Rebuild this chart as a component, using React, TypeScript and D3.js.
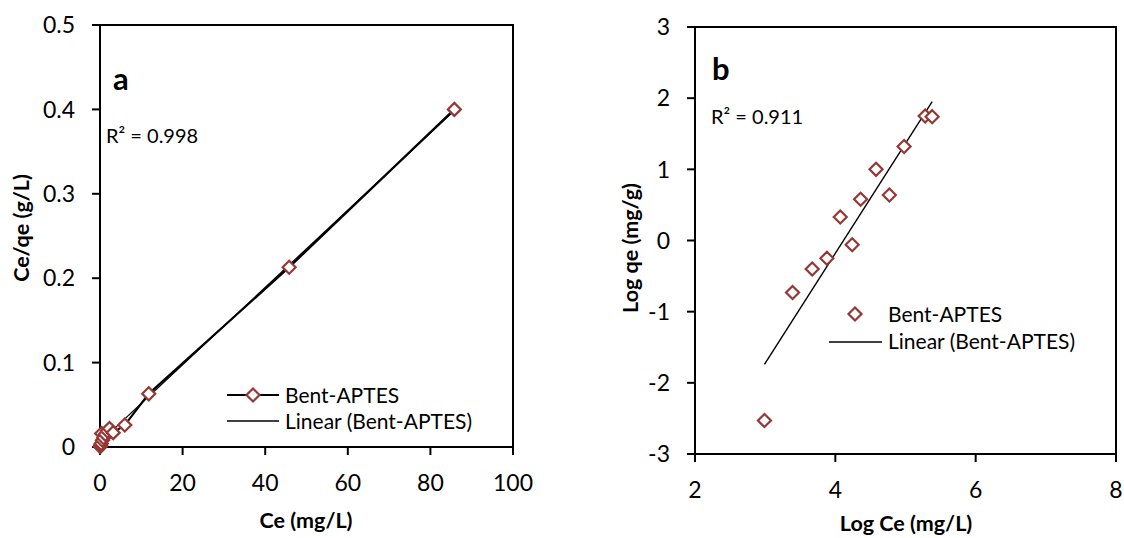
import React from 'react';
import * as d3 from 'd3';

// panel a: Langmuir
const ceA = [0.05, 0.15, 0.3, 0.4, 0.6, 0.9, 1.3, 1.8, 2.3, 3.2, 6.0, 11.8, 45.8, 85.8];
const ceqeA = [0.0005, 0.002, 0.004, 0.016, 0.008, 0.011, 0.015, 0.019, 0.022, 0.017, 0.026, 0.063, 0.213, 0.4];
const xTicksA = [0, 20, 40, 60, 80, 100];
const yTicksA = [0, 0.1, 0.2, 0.3, 0.4, 0.5];

// panel b: Freundlich
const logCeB = [2.99, 3.39, 3.67, 3.88, 4.07, 4.24, 4.36, 4.58, 4.77, 4.98, 5.28, 5.38];
const logQeB = [-2.53, -0.73, -0.4, -0.25, 0.33, -0.06, 0.58, 1.0, 0.64, 1.32, 1.75, 1.74];
const xTicksB = [2, 4, 6, 8];
const yTicksB = [-3, -2, -1, 0, 1, 2, 3];

const RED = '#953734';
const FONT = 'Lato, "Open Sans", sans-serif';

const fit = (xs: number[], ys: number[]) => {
  const mx = d3.mean(xs)!;
  const my = d3.mean(ys)!;
  let sxy = 0, sxx = 0;
  xs.forEach((x, i) => { sxy += (x - mx) * (ys[i] - my); sxx += (x - mx) ** 2; });
  const m = sxy / sxx;
  return { m, b: my - m * mx };
};

const Diamond = ({ x, y }: { x: number; y: number }) => (
  <path d={`M${x},${y - 6.5}L${x + 6.5},${y}L${x},${y + 6.5}L${x - 6.5},${y}Z`}
    fill="white" stroke={RED} strokeWidth={2.2} />
);

const Frame = ({ x, y, xt, yt, fmtY }: any) => {
  const [x0, x1] = x.range();
  const [y0, y1] = y.range();
  return (
    <g>
      <rect x={x0} y={y1} width={x1 - x0} height={y0 - y1} fill="none" stroke="black" strokeWidth={2} />
      {xt.map((t: number) => (
        <g key={'x' + t}>
          <line x1={x(t)} x2={x(t)} y1={y0} y2={y0 + 8} stroke="black" strokeWidth={2} />
          <text x={x(t)} y={y0 + 44} textAnchor="middle" fontSize={23} fontFamily={FONT}>{t}</text>
        </g>
      ))}
      {yt.map((t: number) => (
        <g key={'y' + t}>
          <line x1={x0 - 8} x2={x0} y1={y(t)} y2={y(t)} stroke="black" strokeWidth={2} />
          <text x={x0 - 25} y={y(t)} dy="0.36em" textAnchor="end" fontSize={23} fontFamily={FONT}>{fmtY(t)}</text>
        </g>
      ))}
    </g>
  );
};

const App = () => {
  // panel a scales
  const xA = d3.scaleLinear().domain([0, 100]).range([100, 513]);
  const yA = d3.scaleLinear().domain([0, 0.5]).range([447, 25]);
  const fa = fit(ceA, ceqeA);
  const xsA = d3.extent(ceA) as [number, number];
  const seriesA = d3.line<number>().x((d) => xA(d)).y((_, i) => yA(ceqeA[i]))(ceA)!;

  // panel b scales
  const xB = d3.scaleLinear().domain([2, 8]).range([695, 1116]);
  const yB = d3.scaleLinear().domain([-3, 3]).range([454, 27]);
  const fb = fit(logCeB, logQeB);
  const xsB = d3.extent(logCeB) as [number, number];

  return (
    <svg width={1124} height={538} style={{ position: 'absolute', left: 0, top: 0, background: 'white' }}>
      <rect width={1124} height={538} fill="white" />

      {/* panel a */}
      <Frame x={xA} y={yA} xt={xTicksA} yt={yTicksA} fmtY={(t: number) => (t === 0 ? '0' : d3.format('.1f')(t))} />
      <path d={seriesA} fill="none" stroke="black" strokeWidth={2.2} />
      <line x1={xA(xsA[0])} y1={yA(fa.m * xsA[0] + fa.b)} x2={xA(xsA[1])} y2={yA(fa.m * xsA[1] + fa.b)}
        stroke="black" strokeWidth={1.3} />
      {ceA.map((c, i) => <Diamond key={i} x={xA(c)} y={yA(ceqeA[i])} />)}
      <text x={113} y={90} fontSize={31} fontWeight="bold" fontFamily={FONT}>a</text>
      <text x={106} y={143} fontSize={20} fontFamily={FONT}>R² = 0.998</text>
      <line x1={227} x2={279} y1={395} y2={395} stroke="black" strokeWidth={2.2} />
      <Diamond x={253} y={395} />
      <text x={285} y={403} fontSize={21} fontFamily={FONT}>Bent-APTES</text>
      <line x1={227} x2={279} y1={421} y2={421} stroke="black" strokeWidth={1.3} />
      <text x={285} y={429} fontSize={21} fontFamily={FONT}>Linear (Bent-APTES)</text>
      <text x={306} y={528} textAnchor="middle" fontSize={21.5} fontWeight="bold" fontFamily={FONT}>Ce (mg/L)</text>
      <text transform="translate(29,228) rotate(-90)" textAnchor="middle" fontSize={21.5} fontWeight="bold" fontFamily={FONT}>Ce/qe (g/L)</text>

      {/* panel b */}
      <Frame x={xB} y={yB} xt={xTicksB} yt={yTicksB} fmtY={(t: number) => String(t)} />
      <line x1={xB(xsB[0])} y1={yB(fb.m * xsB[0] + fb.b)} x2={xB(xsB[1])} y2={yB(fb.m * xsB[1] + fb.b)}
        stroke="black" strokeWidth={1.4} />
      {logCeB.map((c, i) => <Diamond key={i} x={xB(c)} y={yB(logQeB[i])} />)}
      <text x={712} y={80} fontSize={31} fontWeight="bold" fontFamily={FONT}>b</text>
      <text x={711} y={124} fontSize={20} fontFamily={FONT}>R² = 0.911</text>
      <Diamond x={855} y={314} />
      <text x={888} y={322} fontSize={21} fontFamily={FONT}>Bent-APTES</text>
      <line x1={829} x2={882} y1={342} y2={342} stroke="black" strokeWidth={1.4} />
      <text x={888} y={349} fontSize={21} fontFamily={FONT}>Linear (Bent-APTES)</text>
      <text x={906} y={531} textAnchor="middle" fontSize={21.5} fontWeight="bold" fontFamily={FONT}>Log Ce (mg/L)</text>
      <text transform="translate(638,248) rotate(-90)" textAnchor="middle" fontSize={21.5} fontWeight="bold" fontFamily={FONT}>Log qe (mg/g)</text>
    </svg>
  );
};

export default App;
